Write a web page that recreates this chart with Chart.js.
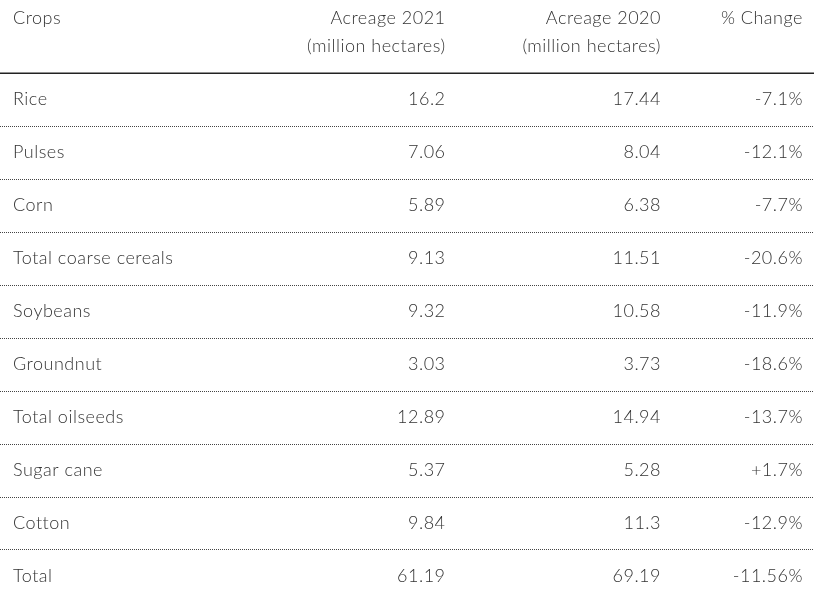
<!DOCTYPE html>
<html>
<head>
<meta charset="utf-8">
<script src="https://cdn.jsdelivr.net/npm/chart.js@4.4.1/dist/chart.umd.min.js"></script>
<style>
  html, body { margin: 0; padding: 0; background: #fff; }
  #wrap { width: 816px; height: 594px; }
</style>
</head>
<body>
<div id="wrap"><canvas id="table" width="816" height="594"></canvas></div>
<script>
// table data
const headers = [["Crops"], ["Acreage 2021", "(million hectares)"], ["Acreage 2020", "(million hectares)"], ["% Change"]];
const crops = ["Rice", "Pulses", "Corn", "Total coarse cereals", "Soybeans", "Groundnut", "Total oilseeds", "Sugar cane", "Cotton", "Total"];
const acreage2021 = [16.2, 7.06, 5.89, 9.13, 9.32, 3.03, 12.89, 5.37, 9.84, 61.19];
const acreage2020 = [17.44, 8.04, 6.38, 11.51, 10.58, 3.73, 14.94, 5.28, 11.3, 69.19];
const pctChange = [-7.1, -12.1, -7.7, -20.6, -11.9, -18.6, -13.7, 1.7, -12.9, -11.56];

// column anchors on the x scale (0..1) and text alignment
const colPos = [0.016, 0.546, 0.81, 0.984];
const colAlign = ["left", "right", "right", "right"];

const fmtPct = v => (v > 0 ? "+" : "") + v + "%";
const columns = [crops, acreage2021.map(String), acreage2020.map(String), pctChange.map(fmtPct)];

const FONT = "300 18px Lato, 'Open Sans', sans-serif";
const TEXT = "#333";

const tablePlugin = {
  id: "tableCells",
  afterDatasetsDraw(chart) {
    const ctx = chart.ctx;
    const x = chart.scales.x, y = chart.scales.y;
    const left = chart.chartArea.left, right = chart.chartArea.right - 2;
    ctx.save();

    // header rule
    ctx.strokeStyle = "#222";
    ctx.lineWidth = 1.5;
    ctx.beginPath();
    const hy = Math.round(y.getPixelForValue(-0.5)) + 0.25;
    ctx.moveTo(left, hy); ctx.lineTo(right, hy);
    ctx.stroke();

    // dotted row separators
    ctx.strokeStyle = "#444";
    ctx.lineWidth = 1;
    ctx.setLineDash([1, 1]);
    for (let i = 0; i < crops.length - 1; i++) {
      const ry = Math.round(y.getPixelForValue(i + 0.5)) + 0.5;
      ctx.beginPath();
      ctx.moveTo(left, ry); ctx.lineTo(right, ry);
      ctx.stroke();
    }
    ctx.setLineDash([]);

    // header text
    ctx.font = FONT;
    ctx.letterSpacing = "0.5px";
    ctx.fillStyle = TEXT;
    ctx.textBaseline = "alphabetic";
    const base = 6; // baseline offset below the row centre
    headers.forEach((lines, c) => {
      ctx.textAlign = colAlign[c];
      lines.forEach((t, k) => {
        ctx.fillText(t, x.getPixelForValue(colPos[c]), y.getPixelForValue(-1.53 + k * 0.53) + base);
      });
    });

    // cells, placed at the points of each column dataset
    chart.data.datasets.forEach((ds, c) => {
      ctx.textAlign = colAlign[c];
      chart.getDatasetMeta(c).data.forEach((pt, i) => {
        ctx.fillText(columns[c][i], pt.x, pt.y + base);
      });
    });
    ctx.restore();
  }
};

new Chart(document.getElementById("table"), {
  type: "scatter",
  data: {
    datasets: columns.map((col, c) => ({
      label: headers[c].join(" "),
      data: col.map((_, i) => ({ x: colPos[c], y: i })),
      pointRadius: 0,
      pointHoverRadius: 0
    }))
  },
  options: {
    responsive: false,
    animation: false,
    layout: { padding: 0 },
    plugins: { legend: { display: false }, tooltip: { enabled: false } },
    scales: {
      x: { type: "linear", min: 0, max: 1, display: false },
      y: { type: "linear", min: -1.87, max: 9.34, reverse: true, display: false }
    }
  },
  plugins: [tablePlugin]
});
</script>
</body>
</html>
